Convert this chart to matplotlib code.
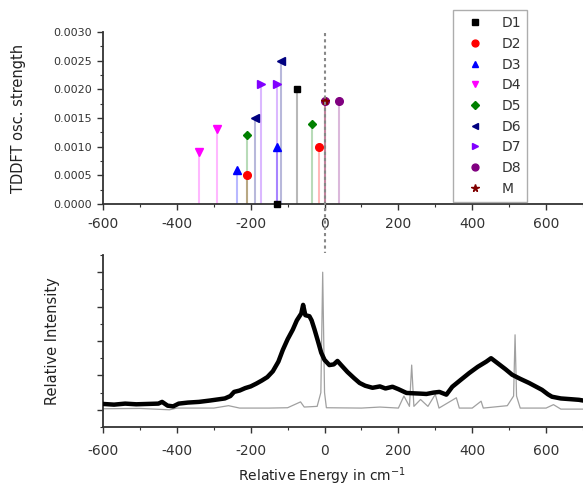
import matplotlib
matplotlib.use("Agg")
import matplotlib.pyplot as plt
from matplotlib.lines import Line2D
from matplotlib.ticker import MultipleLocator, FormatStrFormatter

plt.rcParams['font.family'] = ['DejaVu Sans']
plt.rcParams['axes.unicode_minus'] = False

# ---- TDDFT stick data (relative energy in cm^-1, osc. strength) ----
series_names = ["D1", "D2", "D3", "D4", "D5", "D6", "D7", "D8", "M"]
D1_x = [-74, -128];   D1_y = [0.0020, 0.0000]
D2_x = [-211, -16];   D2_y = [0.0005, 0.0010]
D3_x = [-238, -130];  D3_y = [0.0006, 0.0010]
D4_x = [-340, -292];  D4_y = [0.0009, 0.0013]
D5_x = [-211, -35];   D5_y = [0.0012, 0.0014]
D6_x = [-189, -117];  D6_y = [0.0015, 0.0025]
D7_x = [-171, -128];  D7_y = [0.0021, 0.0021]
D8_x = [0, 38];       D8_y = [0.0018, 0.0018]
M_x = [0];            M_y = [0.0018]

# ---- spectra (relative energy, relative intensity) ----
exp_x = [-600, -570, -540, -510, -480, -450, -440, -425, -410, -395, -370, -340,
         -310, -290, -270, -255, -245, -230, -215, -200, -185, -170, -155, -140,
         -125, -113, -100, -86, -75, -63, -58, -52, -41, -35, -27, -18, -9, 0,
         13, 25, 35, 45, 62, 80, 95, 110, 130, 150, 165, 184, 200, 222, 240, 260,
         276, 295, 311, 330, 346, 370, 392, 415, 438, 451, 473, 490, 508, 530,
         554, 575, 589, 605, 616, 640, 665, 689, 700]
exp_y = [0.17, 0.15, 0.18, 0.16, 0.17, 0.18, 0.23, 0.12, 0.10, 0.18, 0.21, 0.23,
         0.27, 0.30, 0.33, 0.40, 0.52, 0.56, 0.63, 0.68, 0.76, 0.85, 0.95, 1.12,
         1.40, 1.74, 2.05, 2.33, 2.60, 2.80, 3.05, 2.75, 2.72, 2.60, 2.33, 2.00, 1.66, 1.45,
         1.30, 1.32, 1.42, 1.30, 1.10, 0.92, 0.78, 0.70, 0.64, 0.68, 0.62, 0.67, 0.60, 0.49, 0.48, 0.47,
         0.46, 0.50, 0.52, 0.44, 0.67, 0.88, 1.07, 1.25, 1.40, 1.50, 1.32, 1.18, 1.02, 0.90,
         0.78, 0.66, 0.58, 0.45, 0.38, 0.33, 0.31, 0.29, 0.27]

ref_x = [-600, -500, -420, -400, -300, -260, -230, -150, -100, -65, -55, -20, -10,
         -5, 0, 5, 100, 150, 200, 215, 230, 236, 242, 260, 280, 300, 310, 357, 365,
         400, 424, 430, 495, 512, 516, 520, 530, 600, 620, 640, 700]
ref_y = [0.03, 0.04, 0.00, 0.05, 0.05, 0.12, 0.05, 0.05, 0.06, 0.23, 0.08, 0.10, 0.50,
         4.00, 0.50, 0.06, 0.05, 0.08, 0.05, 0.40, 0.10, 1.30, 0.10, 0.30, 0.10, 0.45, 0.05, 0.35, 0.05,
         0.05, 0.25, 0.05, 0.12, 0.40, 2.18, 0.40, 0.05, 0.05, 0.15, 0.02, 0.02]

xticks = [-600, -400, -200, 0, 200, 400, 600]

W, H = 583, 486
fig = plt.figure(figsize=(W / 100, H / 100), dpi=100)

def fx(px):
    return px / W

def fy(py):
    return 1 - py / H

ax1 = fig.add_axes([fx(103), fy(204), fx(583) - fx(103), fy(32) - fy(204)])
ax2 = fig.add_axes([fx(103), fy(427), fx(583) - fx(103), fy(255) - fy(427)])

styles = {
    "D1": ("s", "#000000"),
    "D2": ("o", "#ff0000"),
    "D3": ("^", "#0000ff"),
    "D4": ("v", "#ff00ff"),
    "D5": ("D", "#008000"),
    "D6": ("<", "#000080"),
    "D7": (">", "#8000ff"),
    "D8": ("o", "#800080"),
    "M": ("*", "#800000"),
}
data = {
    "D1": (D1_x, D1_y), "D2": (D2_x, D2_y), "D3": (D3_x, D3_y),
    "D4": (D4_x, D4_y), "D5": (D5_x, D5_y), "D6": (D6_x, D6_y),
    "D7": (D7_x, D7_y), "D8": (D8_x, D8_y), "M": (M_x, M_y),
}
msize = {"s": 5, "o": 5.5, "^": 5.5, "v": 5.5, "D": 4.5, "<": 5.5, ">": 5.5, "*": 6}

for name in series_names:
    mk, col = styles[name]
    xs, ys = data[name]
    ax1.vlines(xs, 0, ys, colors=col, alpha=0.28, lw=1.5, zorder=2)
for name in series_names:
    mk, col = styles[name]
    xs, ys = data[name]
    ax1.plot(xs, ys, ls="none", marker=mk, color=col, ms=msize[mk],
             label=name, zorder=3, clip_on=False)

ax1.set_xlim(-600, 700)
ax1.set_ylim(0, 0.0030)
ax1.set_xticks(xticks)
ax1.xaxis.set_minor_locator(MultipleLocator(100))
ax1.yaxis.set_major_locator(MultipleLocator(0.0005))
ax1.yaxis.set_minor_locator(MultipleLocator(0.00025))
ax1.yaxis.set_major_formatter(FormatStrFormatter("%.4f"))
ax1.set_ylabel("TDDFT osc. strength", fontsize=10.5, color="#222222")
ax1.yaxis.set_label_coords(-0.16, 0.5)

leg = ax1.legend(loc="upper right", bbox_to_anchor=((527 - 103) / 480, (204 - 10) / 172),
                 borderaxespad=0, fontsize=10, frameon=True, fancybox=False,
                 edgecolor="#999999", labelspacing=0.48, handlelength=2.2,
                 handletextpad=0.8, borderpad=0.45, markerscale=0.9)
leg.get_frame().set_linewidth(1.0)
for t in leg.get_texts():
    t.set_color("#333333")

ax2.plot(ref_x, ref_y, color="#a0a0a0", lw=0.9, zorder=2)
ax2.plot(exp_x, exp_y, color="black", lw=3.2, zorder=3)
ax2.set_xlim(-600, 700)
ax2.set_ylim(-0.5, 4.5)
ax2.set_xticks(xticks)
ax2.xaxis.set_minor_locator(MultipleLocator(100))
ax2.yaxis.set_minor_locator(MultipleLocator(0.5))
ax2.set_yticks([0, 1, 2, 3, 4])
ax2.set_yticklabels([])
ax2.set_ylabel("Relative Intensity", fontsize=10.5, color="#222222")
ax2.yaxis.set_label_coords(-0.09, 0.5)
ax2.set_xlabel("Relative Energy in cm$^{-1}$", fontsize=10, color="#222222")
ax2.xaxis.set_label_coords((322 - 103) / 480, -0.225)

for ax in (ax1, ax2):
    for s in ("top", "right"):
        ax.spines[s].set_visible(False)
    for s in ("left", "bottom"):
        ax.spines[s].set_linewidth(1.3)
        ax.spines[s].set_color("#333333")
    ax.tick_params(which="major", direction="out", length=4, width=1, color="#333333")
    ax.tick_params(which="minor", direction="out", length=2, width=0.8, color="#333333")
    ax.tick_params(axis="x", labelsize=10, labelcolor="#333333", pad=5)

ax1.tick_params(axis="y", labelsize=8, labelcolor="#333333", pad=4)
ax2.tick_params(axis="x", pad=8)

# dotted line at zero energy connecting both panels
x0 = ax1.transData.transform((0, 0))[0] / fig.dpi / fig.get_figwidth()
fig.add_artist(Line2D([x0, x0], [fy(33), fy(253)], transform=fig.transFigure,
                      color="#888888", lw=1.5, ls=(0, (1.5, 1.5)), zorder=5))

fig.savefig("out.png", dpi=100)
